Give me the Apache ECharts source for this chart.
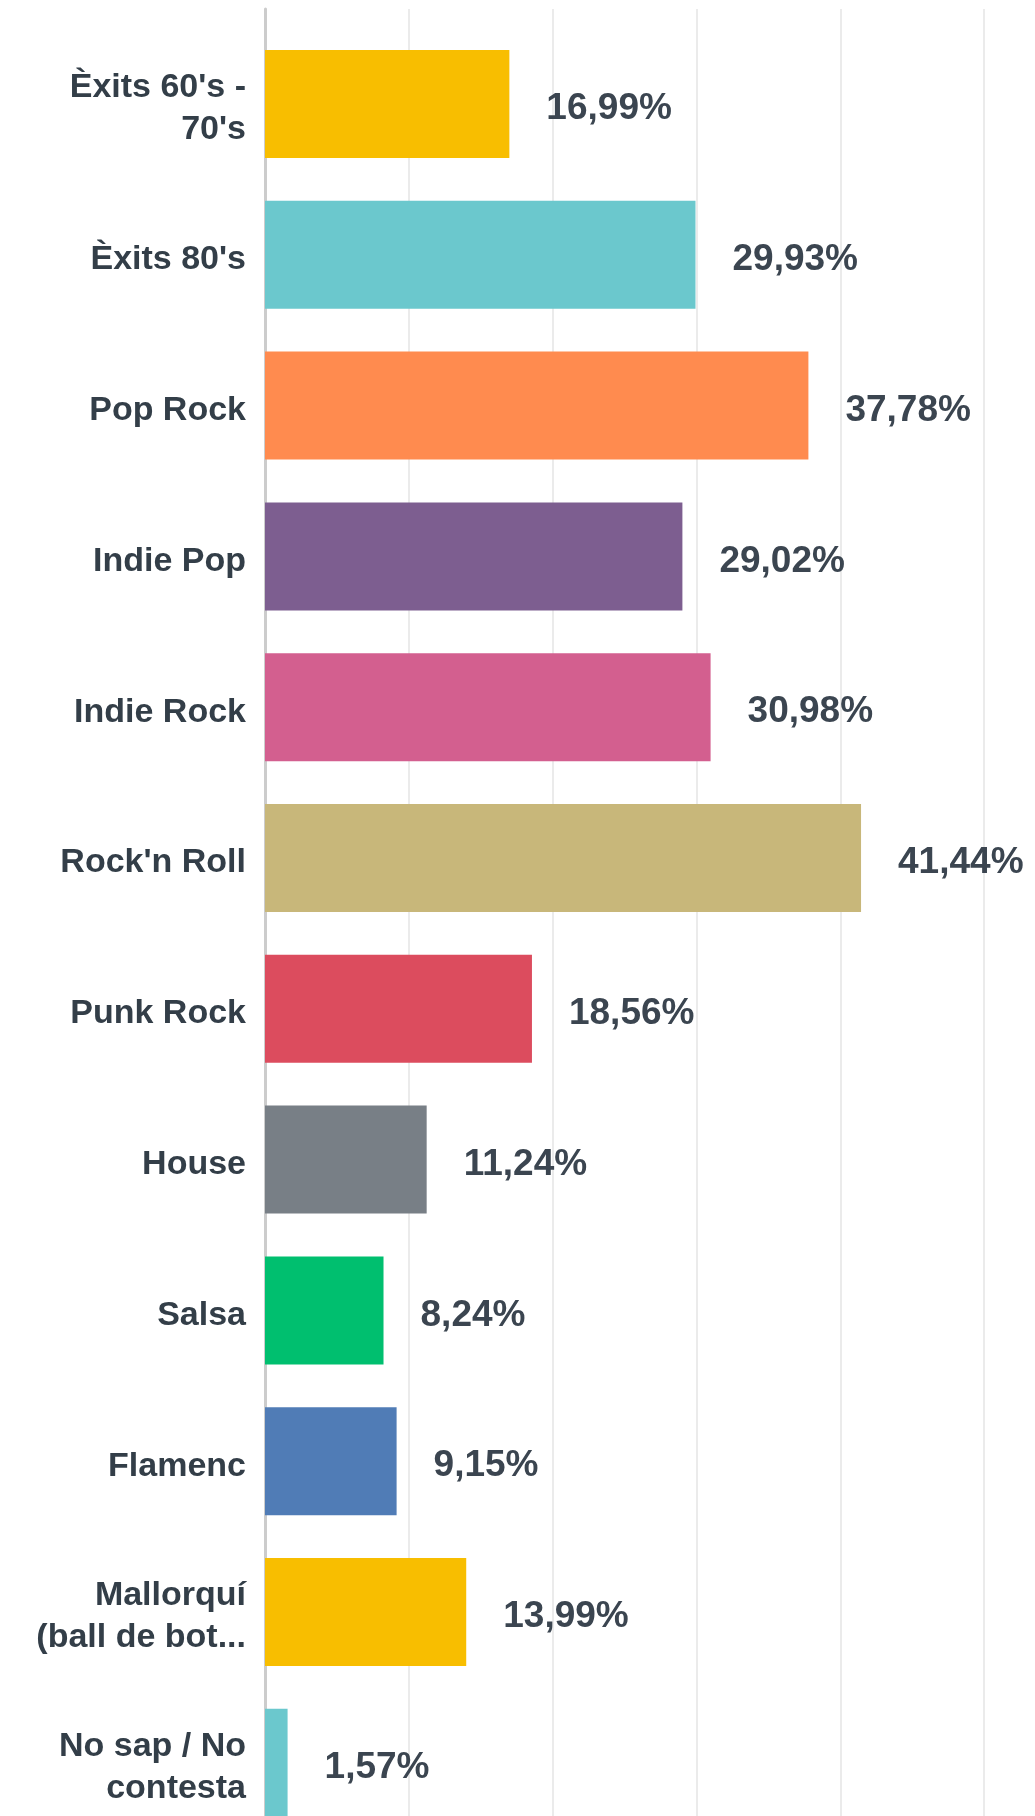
<!DOCTYPE html>
<html>
<head>
<meta charset="utf-8">
<script src="https://cdn.jsdelivr.net/npm/echarts@6/dist/echarts.min.js"></script>
<style>
  html, body { margin: 0; padding: 0; background: #fff; overflow: hidden; }
  /* la imatge original està retallada a dreta i a baix: el gràfic és més gran que la finestra */
  #chart { width: 1128px; height: 1845px; }
</style>
</head>
<body>
<div id="chart"></div>
<script>
// categorias (tal com es veuen a la imatge, amb salt de línia)
const categories = [
  "Èxits 60's -\n70's",
  "Èxits 80's",
  'Pop Rock',
  'Indie Pop',
  'Indie Rock',
  "Rock'n Roll",
  'Punk Rock',
  'House',
  'Salsa',
  'Flamenc',
  'Mallorquí\n(ball de bot...',
  'No sap / No\ncontesta'
]
const percentages = [16.99, 29.93, 37.78, 29.02, 30.98, 41.44, 18.56, 11.24, 8.24, 9.15, 13.99, 1.57]
const barColors = ['#f8be00', '#6bc8cd', '#ff8b4f', '#7d5e90', '#d35f8f', '#c8b77a',
  '#dc4c5e', '#787f86', '#00bf6f', '#507cb6', '#f8be00', '#6bc8cd']

const chart = echarts.init(document.getElementById('chart'))

const textColor = '#333e48'
const fontFamily = '"Liberation Sans", Arial, sans-serif'

const option = {
  animation: false,
  grid: [
    // fons: línies de graella i eix vertical
    { left: 265, right: 0, top: 9, bottom: 0 },
    // barres
    { left: 265, right: 0, top: 28.6, bottom: 6.8 },
    // etiquetes de categoria (una mica més avall que el centre de la barra)
    { left: 265, right: 0, top: 33.6, bottom: 1.8 }
  ],
  xAxis: [
    {
      gridIndex: 0, type: 'value', min: 0, max: 60, interval: 10,
      axisLabel: { show: false }, axisTick: { show: false }, axisLine: { show: false },
      splitLine: { show: true, lineStyle: { color: '#ebebeb', width: 2 } }
    },
    {
      gridIndex: 1, type: 'value', min: 0, max: 60, interval: 10, show: false,
      splitLine: { show: false }
    },
    {
      gridIndex: 2, type: 'value', min: 0, max: 60, interval: 10, show: false,
      splitLine: { show: false }
    }
  ],
  yAxis: [
    {
      gridIndex: 0, type: 'value', min: 0, max: 1,
      axisLabel: { show: false }, axisTick: { show: false }, splitLine: { show: false },
      axisLine: { show: true, lineStyle: { color: '#cccccc', width: 3 } }
    },
    {
      gridIndex: 1, type: 'category', data: categories, inverse: true,
      axisLine: { show: false }, axisTick: { show: false }, axisLabel: { show: false }
    },
    {
      gridIndex: 2, type: 'category', data: categories, inverse: true,
      axisLine: { show: false }, axisTick: { show: false },
      axisLabel: {
        margin: 19, align: 'right', color: textColor, fontFamily: fontFamily,
        fontWeight: 'bold', fontSize: 34, lineHeight: 42
      }
    }
  ],
  series: [{
    type: 'bar',
    xAxisIndex: 1,
    yAxisIndex: 1,
    barWidth: 108,
    data: percentages.map((v, i) => ({ value: v, itemStyle: { color: barColors[i] } })),
    label: {
      show: true,
      position: 'right',
      distance: 37,
      offset: [0, 5],
      color: '#3b4550',
      fontFamily: fontFamily,
      fontWeight: 'bold',
      fontSize: 37,
      formatter: (p) => p.value.toFixed(2).replace('.', ',') + '%'
    }
  }]
}

chart.setOption(option)
</script>
</body>
</html>
